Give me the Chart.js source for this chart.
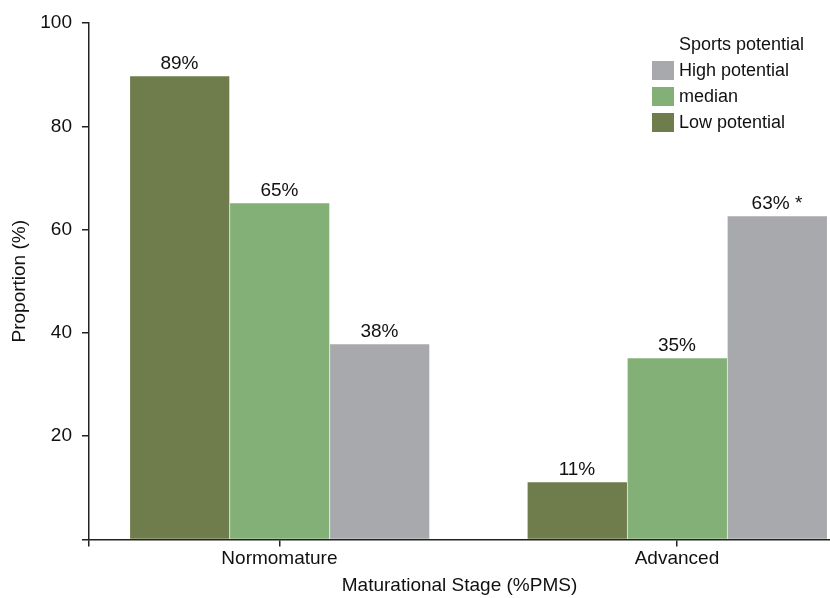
<!DOCTYPE html>
<html>
<head>
<meta charset="utf-8">
<script src="https://cdn.jsdelivr.net/npm/chart.js@4.4.1/dist/chart.umd.min.js"></script>
<style>
    body { margin: 0; background: #fff; }
    #wrap { width: 830px; height: 598px; position: relative; }
</style>
</head>
<body>
<div id="wrap"><canvas id="stageChart"></canvas></div>
<script>
// categories and series
const categories = ['Normomature', 'Advanced'];
const seriesNames = ['Low potential', 'median', 'High potential'];
const lowValues = [89.7, 11.1];
const medianValues = [65.1, 35.1];
const highValues = [37.8, 62.6];
const lowLabels = ['89%', '11%'];
const medianLabels = ['65%', '35%'];
const highLabels = ['38%', '63% *'];
const yTicks = [0, 20, 40, 60, 80, 100];

const FONT = '"Liberation Sans", Arial, sans-serif';
const colors = ['#6f7c4b', '#82b077', '#a8a9ad'];
const X_MIN = -0.479, X_MAX = 1.385;

const toPoints = vals => vals.map((v, i) => ({ x: i, y: v }));

// value labels on top of each bar
const barLabels = {
    id: 'barLabels',
    afterDatasetsDraw(chart) {
        const ctx = chart.ctx;
        ctx.save();
        ctx.font = '19px ' + FONT;
        ctx.fillStyle = '#111';
        ctx.textAlign = 'center';
        ctx.textBaseline = 'alphabetic';
        chart.data.datasets.forEach((ds, di) => {
            chart.getDatasetMeta(di).data.forEach((bar, i) => {
                ctx.fillText(ds.valueLabels[i], bar.x, bar.y - 7);
            });
        });
        ctx.restore();
    }
};

// legend in the top right, title then items in reverse order
const boxLegend = {
    id: 'boxLegend',
    afterDraw(chart) {
        const ctx = chart.ctx;
        const x = 652, textX = 679;
        ctx.save();
        ctx.font = '18px ' + FONT;
        ctx.fillStyle = '#111';
        ctx.textAlign = 'left';
        ctx.textBaseline = 'middle';
        ctx.fillText('Sports potential', textX, 45);
        const items = chart.data.datasets.slice().reverse();
        items.forEach((ds, i) => {
            const y = 71 + i * 26;
            ctx.fillStyle = ds.backgroundColor;
            ctx.fillRect(x, y - 10, 22, 19);
            ctx.fillStyle = '#111';
            ctx.fillText(ds.label, textX, y);
        });
        ctx.restore();
    }
};

const ctx = document.getElementById('stageChart').getContext('2d');
new Chart(ctx, {
    type: 'bar',
    data: {
        datasets: [
            { label: seriesNames[0], data: toPoints(lowValues), valueLabels: lowLabels, backgroundColor: colors[0] },
            { label: seriesNames[1], data: toPoints(medianValues), valueLabels: medianLabels, backgroundColor: colors[1] },
            { label: seriesNames[2], data: toPoints(highValues), valueLabels: highLabels, backgroundColor: colors[2] }
        ]
    },
    options: {
        responsive: true,
        maintainAspectRatio: false,
        animation: false,
        barThickness: 100,
        borderColor: '#ffffff',
        borderWidth: { left: 1, right: 0, top: 0, bottom: 0 },
        borderSkipped: false,
        layout: { padding: { top: 23, right: 0, bottom: 0, left: 0 } },
        plugins: {
            legend: { display: false },
            tooltip: { enabled: false }
        },
        scales: {
            x: {
                type: 'linear',
                min: X_MIN,
                max: X_MAX,
                offset: false,
                afterBuildTicks: s => { s.ticks = [{ value: X_MIN }, { value: 0 }, { value: 1 }]; },
                afterFit: s => { s.height = 58.5; },
                ticks: {
                    autoSkip: false,
                    maxRotation: 0,
                    padding: 1,
                    color: '#111',
                    font: { family: FONT, size: 19 },
                    callback: v => categories[v] ?? ''
                },
                grid: { display: true, offset: false, drawOnChartArea: false, tickLength: 7, color: '#222', lineWidth: 1.5 },
                border: { color: '#222', width: 1.5 },
                title: {
                    display: true,
                    text: 'Maturational Stage (%PMS)',
                    color: '#111',
                    font: { family: FONT, size: 19 },
                    padding: { top: 0, bottom: 1 }
                }
            },
            y: {
                min: 0,
                max: 100,
                afterBuildTicks: s => { s.ticks = yTicks.map(v => ({ value: v })); },
                afterFit: s => { s.width = 89; },
                ticks: {
                    padding: 10,
                    color: '#111',
                    font: { family: FONT, size: 19 },
                    callback: v => v === 0 ? '' : v
                },
                grid: { display: true, drawOnChartArea: false, tickLength: 7, color: '#222', lineWidth: 1.5 },
                border: { color: '#222', width: 1.5 },
                title: {
                    display: true,
                    text: 'Proportion (%)',
                    color: '#111',
                    font: { family: FONT, size: 19 },
                    padding: { top: 8, bottom: 0 }
                }
            }
        }
    },
    plugins: [barLabels, boxLegend]
});
</script>
</body>
</html>
